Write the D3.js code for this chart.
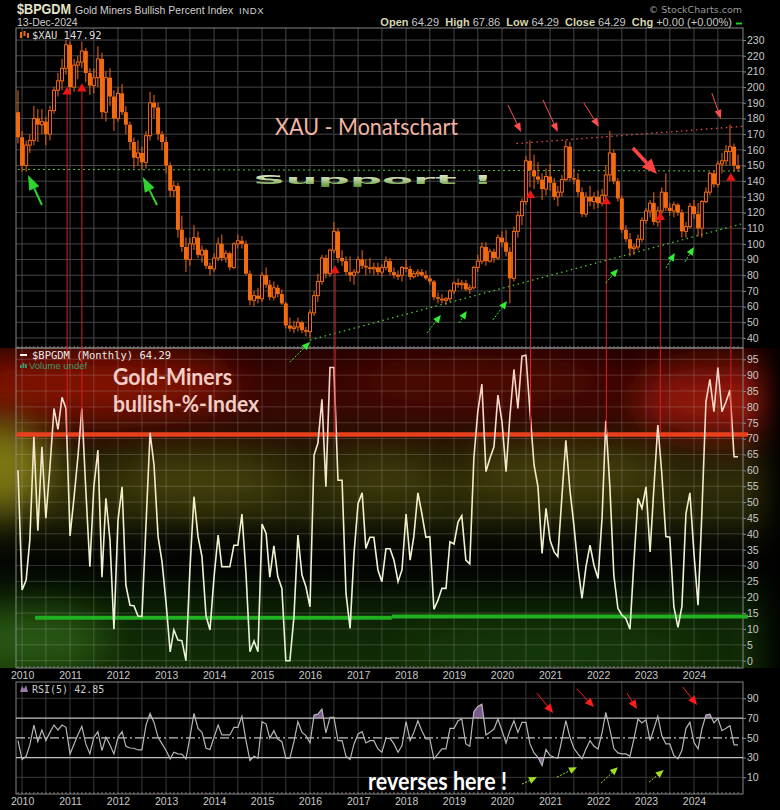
<!DOCTYPE html>
<html>
<head>
<meta charset="utf-8">
<script src="https://cdn.jsdelivr.net/npm/d3@7"></script>
<style>
  body { margin: 0; background: #000; }
  #chart { width: 780px; height: 810px; }
  text { font-family: "Liberation Sans", Arial, sans-serif; }
</style>
</head>
<body>
<div id="chart"></div>
<script>
// ---- data: monthly bars Dec-2009 .. Dec-2024 ----
const firstMonth = "2009-12-01";
const lastMonth = "2024-12-01";

// $XAU monthly candles (rows: 2009 Dec, then one row per year)
const xauOpen = [184,
  168,150,163,166,180,176,178,170,185,198,204,212,
  227,200,214,216,223,209,201,206,218,184,206,194,
  180,196,184,176,165,155,158,152,169,190,187,170,
  165,150,134,137,109,98,90,100,104,93,96,86,
  84,91,100,91,94,85,100,102,100,81,64,67,
  65,80,74,66,72,68,62,48,46,47,50,45,
  44,56,67,76,91,81,96,108,91,89,82,80,
  82,90,86,85,84,85,82,85,89,82,80,80,
  85,84,79,81,82,80,78,76,66,65,64,65,
  70,75,74,75,71,72,85,89,98,89,95,91,
  104,101,95,78,108,118,127,153,147,143,141,135,
  143,139,130,133,141,162,142,141,133,119,130,127,
  130,126,131,144,158,140,129,109,103,97,98,103,
  115,121,126,114,121,133,123,121,125,120,108,111,
  124,119,110,127,133,145,138,151,153,159,162,150];
const xauHigh = [198,
  172,166,170,188,186,186,181,188,200,209,218,230,
  229,218,220,229,225,212,212,226,222,210,212,198,
  200,202,188,178,168,166,162,172,197,195,190,172,
  168,152,140,139,118,104,104,112,108,99,97,88,
  94,104,106,96,95,101,106,105,102,83,70,72,
  82,85,77,76,74,71,63,53,51,53,51,47,
  58,70,81,93,93,97,114,110,96,92,92,84,
  92,96,90,91,88,88,87,92,91,85,83,86,
  90,86,83,84,84,83,80,77,69,68,66,71,
  76,78,77,77,74,86,93,101,101,97,97,106,
  108,109,98,111,121,129,156,166,157,152,145,148,
  151,142,137,144,166,165,148,145,136,133,137,133,
  134,135,150,172,160,142,131,112,107,100,106,117,
  123,128,133,124,136,145,126,127,126,122,114,126,
  128,126,128,136,146,147,153,158,163,176,164,157];
const xauLow = [164,
  146,146,158,163,165,170,163,166,183,194,198,208,
  196,197,205,212,203,195,196,200,180,178,188,172,
  178,182,170,160,148,150,147,148,166,180,166,160,
  145,130,130,104,95,82,86,96,91,88,84,80,
  82,89,89,88,83,84,97,97,80,61,60,62,
  63,72,64,64,66,61,46,44,43,44,43,41,
  40,54,63,74,78,79,94,88,86,80,76,74,
  81,84,80,81,80,80,79,83,80,78,77,76,
  82,77,78,79,79,77,74,64,62,62,61,63,
  68,72,71,70,68,71,82,87,86,88,88,90,
  98,92,62,76,104,112,125,136,135,138,128,131,
  134,128,124,130,140,140,138,130,117,117,124,122,
  123,124,129,140,138,127,107,101,92,93,96,101,
  113,117,112,111,119,121,118,117,118,104,104,110,
  116,105,104,126,131,136,136,145,150,150,146,146];
const xauClose = [168,
  150,163,166,180,176,178,170,185,198,204,212,227,
  200,214,216,223,209,201,206,218,184,206,194,180,
  196,184,176,165,155,158,152,169,190,187,170,165,
  150,134,137,109,98,90,100,104,93,96,86,84,
  91,100,91,94,85,100,102,100,81,64,67,65,
  80,74,66,72,68,62,48,46,47,50,45,44,
  56,67,76,91,81,96,108,91,89,82,80,82,
  90,86,85,84,85,82,85,89,82,80,80,85,
  84,79,81,82,80,78,76,66,65,64,65,70,
  75,74,75,71,72,85,89,98,89,95,91,104,
  101,95,78,108,118,127,153,147,143,141,135,143,
  139,130,133,141,162,142,141,133,119,130,127,130,
  126,131,144,158,140,129,109,103,97,98,103,115,
  121,126,114,121,133,123,121,125,120,108,111,124,
  119,110,127,133,145,138,151,153,159,162,150,147.92];

// $BPGDM monthly close
const bpgdm = [60,
  22.3,25.4,38,70.6,41,67.4,44.9,61,79.5,72.9,83,79.5,
  39.3,51.7,63.8,79.5,53.8,29.6,54.8,66.4,26.3,51.2,38,9.9,
  44.3,54.8,23.8,17.5,17.3,14.1,13.9,42.8,71.8,61.7,39.1,31.2,
  18.1,2.8,9.7,6.5,6.3,0,28.6,51.7,39.1,32.8,14.1,9.7,
  26.5,39.6,29.6,29.6,29.6,36.4,36.4,46.2,27.5,2.8,6.2,2.8,
  43.1,40.1,26.3,36.2,26.5,22.8,0,0,13.9,39.6,27,23.3,
  17,64.8,68.5,82.4,54.8,92.4,92.4,56.9,56.9,21.2,10.2,33.8,
  49.6,52.9,35.4,38.9,38.9,28.6,24.9,35.3,35.3,31.7,24.9,28.6,
  46.2,31.7,39.1,52.9,46.4,38.9,39.1,16.2,19.1,22.8,22.8,37.5,
  36.8,43.8,45.7,31.7,30.5,63.8,78.5,87.2,59.6,63.8,67.4,83.7,
  75.3,59.6,76.9,91.8,79.5,96,96.3,78.5,61.7,54.8,33.8,48,
  38,34.3,32.8,51.7,69.5,53.8,42.8,29.6,19.6,29.6,36.4,30.1,
  25.9,45.4,75.6,54.8,27,16.5,14.4,13.3,9.9,31.2,51.2,48,
  54.8,34.3,53.8,74.3,59,39.1,38.9,17,10.5,17,46.4,52.9,
  33.8,17.5,46.4,81.6,88.7,78.5,92.4,78.5,81.6,85.3,64.29,64.29];

// RSI(5) of $BPGDM
const rsi5 = [47.1,
  28,31.3,42.8,62.9,46.1,57.9,47.1,55.5,62.9,57.9,62.9,60.6,
  33.7,43.8,52.9,61.6,43.8,33.7,50.5,56.2,37.1,50.5,42.8,33.7,
  50.5,56.2,41.4,39.7,39.4,37.7,37.7,62.9,74.7,65.6,50.5,43.8,
  37.1,28.7,35.4,33.7,33.4,28.7,50.5,74.7,59.6,55.5,39.4,38.1,
  50.5,62.9,52.9,52.9,52.9,60.6,60.6,71.7,47.1,27,31.3,29.3,
  66.3,63.9,49.5,57.2,48.8,46.1,29.3,29.3,46.1,66.3,55.5,52.2,
  44.8,73,74,79.1,54.9,70.7,70.7,47.1,47.1,31.3,28,43.8,
  53.9,56.2,44.8,47.1,47.1,38.7,35.4,49.5,49.5,43.8,35.4,42.1,
  66.3,47.1,55.5,67.3,57.2,48.8,48.8,28.7,33.7,38.7,38.7,59.6,
  59.6,67.3,69,43.8,41.4,76.4,81.8,84.1,52.9,55.5,58.9,69,
  57.2,44.8,57.2,67.3,55.5,65.6,65.6,43.8,34.7,30.3,21.9,38.1,
  32.1,30.3,29.3,48.2,67.3,50.5,39.4,33.7,28.7,38.7,47.1,41.4,
  38.7,55.5,75.7,58.9,39.4,34.7,33.7,33.7,31.3,48.8,69,65,
  68.3,47.1,58.9,71.7,52.2,43.8,43.8,32.1,28.7,37.1,59.6,65.6,
  45.5,38.7,58.9,73,74,65,69.7,57.2,59.6,62.3,42.85,42.85];

// tick values
const xauTicks = d3.range(40, 231, 10);
const bpiTicks = d3.range(0, 96, 5);
const rsiTicks = [10, 30, 50, 70, 90];

// sell signals (XAU level of the marker)
const signalDates = ["2010-12-10","2011-04-01","2016-07-10","2020-08-05","2022-03-05","2023-04-20","2024-10-08"];
const signalLevels = [197, 199, 83, 131, 127, 117, 142];

// reference levels [fromDate, toDate, level]
const bpiUpperLine = ["2009-11-20", "2025-02-15", 71.3];
const bpiLowerLines = [["2010-04-10", "2017-09-15", 13.5], ["2017-09-15", "2025-02-15", 13.9]];
const supportLine = [["2009-12-01", 147.5], ["2025-01-08", 146.5]];
const trendLine = [["2016-01-01", 38.7], ["2025-01-08", 113]];
const resistLine = [["2020-04-20", 164], ["2025-01-08", 175]];

// hand drawn arrows [fromDate, fromValue, toDate, toValue]
const xauRedArrows = [
  ["2020-02-15",188.6,"2020-05-25",171.4],
  ["2020-11-08",191.8,"2021-03-01",171.4],
  ["2021-09-15",189.9,"2022-01-08",174.6],
  ["2022-09-23",161.2,"2023-03-25",144.6],
  ["2024-05-16",196.2,"2024-07-24",179.7]];
const xauBigGreenArrows = [
  ["2010-06-01",124.8,"2010-02-15",144.0],
  ["2012-10-24",124.8,"2012-07-08",142.7]];
const xauGreenArrows = [
  ["2015-08-01",24.7,"2016-01-01",37.4],
  ["2018-06-09",43.2,"2018-09-23",54.7],
  ["2019-02-08",49.6,"2019-04-08",57.2],
  ["2019-10-24",51.5,"2020-02-08",63.6],
  ["2022-03-01",75.1,"2022-06-01",84.0],
  ["2023-06-01",84.6,"2023-08-08",94.2],
  ["2023-10-24",88.5,"2024-01-01",98.0]];
const rsiRedArrows = [
  ["2020-09-23",95.3,"2021-01-24",75.1],
  ["2021-07-24",99.4,"2021-12-01",81.1],
  ["2022-08-08",95.3,"2022-10-24",79.1],
  ["2023-10-08",101.4,"2024-01-24",83.1]];
const rsiGreenArrows = [
  ["2020-06-01",3.1,"2020-09-23",10.2],
  ["2021-02-22",10.2,"2021-07-24",20.3],
  ["2022-01-24",4.1,"2022-06-01",20.3],
  ["2023-01-24",5.1,"2023-05-16",17.3]];

const parseDate = d3.timeParse("%Y-%m-%d");

class MinersChart {
  constructor(parentElement) {
    this.parentElement = parentElement;
    this.initVis();
  }

  initVis() {
    let vis = this;
    vis.left = 16;
    vis.right = 743;

    vis.svg = d3.select("#" + vis.parentElement).append("svg")
      .attr("width", 780).attr("height", 810)
      .style("background", "#000");
    vis.defs = vis.svg.append("defs");

    vis.x = d3.scaleTime()
      .domain([parseDate(firstMonth), parseDate(lastMonth)])
      .range([18, 738]);
    vis.yTop = d3.scaleLinear().domain([33.6, 237.7]).range([348, 28]);
    vis.yMid = d3.scaleLinear().domain([-2.3, 98.56]).range([668, 348]);
    vis.yRsi = d3.scaleLinear().domain([-6.9, 106.5]).range([794, 682]);

    vis.wrangleData();
  }

  wrangleData() {
    let vis = this;
    let months = d3.timeMonth.range(parseDate(firstMonth), d3.timeMonth.offset(parseDate(lastMonth), 1));
    vis.bars = months.map((d, i) => ({
      date: d, open: xauOpen[i], high: xauHigh[i], low: xauLow[i], close: xauClose[i],
      bpi: bpgdm[i], rsi: rsi5[i]
    }));
    vis.halfYears = vis.x.ticks(d3.timeMonth.every(6));
    vis.months = months;
    vis.updateVis();
  }

  updateVis() {
    let vis = this;
    vis.drawBackground();
    vis.drawGrids();
    vis.drawXau();
    vis.drawBreadth();
    vis.drawRsi();
    vis.drawSignals();
    vis.drawAxes();
    vis.drawNotes();
    vis.drawHeader();
  }

  drawBackground() {
    let vis = this;
    let grad = vis.defs.append("linearGradient").attr("id", "midBg")
      .attr("x1", 0).attr("y1", 0).attr("x2", 0).attr("y2", 1);
    [[0, "#240200"], [0.08, "#360502"], [0.18, "#380803"], [0.27, "#2a0e03"],
     [0.34, "#262006"], [0.43, "#2e2c08"], [0.52, "#242408"], [0.6, "#0e1004"],
     [0.67, "#030502"], [0.75, "#071404"], [0.86, "#0e2605"], [1, "#122c06"]]
      .forEach(s => grad.append("stop").attr("offset", s[0]).attr("stop-color", s[1]));

    let blur = vis.defs.append("filter").attr("id", "blur")
      .attr("x", "-50%").attr("y", "-50%").attr("width", "200%").attr("height", "200%");
    blur.append("feGaussianBlur").attr("stdDeviation", 18);

    let clip = vis.defs.append("clipPath").attr("id", "midClip");
    clip.append("rect").attr("x", 0).attr("y", 348).attr("width", 780).attr("height", 320);

    let bg = vis.svg.append("g").attr("clip-path", "url(#midClip)");
    bg.append("rect").attr("x", 0).attr("y", 348).attr("width", 780).attr("height", 320)
      .attr("fill", "url(#midBg)");

    let blobs = [
      [90, 385, 150, 32, "#9c1606", 0.75],
      [480, 380, 130, 24, "#6a0e04", 0.45],
      [720, 400, 85, 34, "#b01a08", 0.75],
      [0, 465, 50, 45, "#8c8412", 0.85],
      [200, 478, 80, 24, "#5a5410", 0.55],
      [385, 474, 50, 20, "#5a5410", 0.45],
      [565, 470, 100, 24, "#5e5810", 0.5],
      [420, 560, 360, 20, "#000000", 0.6],
      [30, 640, 80, 30, "#2e6212", 0.85],
      [550, 650, 150, 24, "#1c460a", 0.5]
    ];
    bg.selectAll(".blob").data(blobs).enter().append("ellipse")
      .attr("cx", d => d[0]).attr("cy", d => d[1])
      .attr("rx", d => d[2]).attr("ry", d => d[3])
      .attr("fill", d => d[4]).attr("opacity", d => d[5])
      .attr("filter", "url(#blur)");

    let fade = vis.defs.append("linearGradient").attr("id", "rightFade")
      .attr("x1", 0).attr("y1", 0).attr("x2", 1).attr("y2", 0);
    fade.append("stop").attr("offset", 0).attr("stop-color", "#000").attr("stop-opacity", 0);
    fade.append("stop").attr("offset", 1).attr("stop-color", "#000").attr("stop-opacity", 0.9);
    bg.append("rect").attr("x", 745).attr("y", 348).attr("width", 35).attr("height", 320)
      .attr("fill", "url(#rightFade)");
  }

  drawGrids() {
    let vis = this;
    let g = vis.svg.append("g").attr("class", "grids");
    let w = vis.right - vis.left;

    let panelGrid = (scale, ticks, y0, y1, color) => {
      g.append("g").selectAll("line").data(ticks).enter().append("line")
        .attr("x1", vis.left).attr("x2", vis.right)
        .attr("y1", d => scale(d)).attr("y2", d => scale(d))
        .attr("stroke", color).attr("stroke-width", 1);
      g.append("g").selectAll("line").data(vis.halfYears).enter().append("line")
        .attr("x1", d => vis.x(d)).attr("x2", d => vis.x(d))
        .attr("y1", y0).attr("y2", y1)
        .attr("stroke", color).attr("stroke-width", 1);
    };
    panelGrid(vis.yTop, xauTicks, 28, 348, "#464646");
    panelGrid(vis.yMid, bpiTicks, 348, 668, "rgba(220,220,220,0.2)");
    panelGrid(vis.yRsi, [10, 90], 682, 794, "#3a3a3a");

    // month ticks along frames
    [348, 668, 794].forEach(yy => {
      g.append("g").selectAll("line").data(vis.months).enter().append("line")
        .attr("x1", d => vis.x(d)).attr("x2", d => vis.x(d))
        .attr("y1", yy - 2).attr("y2", yy)
        .attr("stroke", "#777");
    });

    [[28, 320], [348, 320], [682, 112]].forEach(p => {
      vis.svg.append("rect").attr("x", vis.left).attr("y", p[0])
        .attr("width", w).attr("height", p[1])
        .attr("fill", "none").attr("stroke", "#858585");
    });
  }

  drawXau() {
    let vis = this;
    let orange = "#f26b10";
    let g = vis.svg.append("g").attr("class", "candles");
    let ln = d3.line().x(d => vis.x(parseDate(d[0]))).y(d => vis.yTop(d[1]));

    g.append("path").attr("d", ln(supportLine))
      .attr("stroke", "#55c43c").attr("stroke-dasharray", "2,3").attr("fill", "none");
    g.append("path").attr("d", ln(trendLine))
      .attr("stroke", "#4fc83a").attr("stroke-dasharray", "1.5,3.5").attr("stroke-width", 1.3).attr("fill", "none");
    g.append("path").attr("d", ln(resistLine))
      .attr("stroke", "#e8504a").attr("stroke-dasharray", "1.5,3.5").attr("stroke-width", 1.3).attr("fill", "none");

    let bars = g.selectAll(".bar").data(vis.bars).enter().append("g");
    bars.append("line")
      .attr("x1", d => vis.x(d.date)).attr("x2", d => vis.x(d.date))
      .attr("y1", d => vis.yTop(d.high)).attr("y2", d => vis.yTop(d.low))
      .attr("stroke", orange).attr("stroke-width", 1);
    bars.append("rect")
      .attr("x", d => vis.x(d.date) - (d.close >= d.open ? 1.5 : 2))
      .attr("width", d => d.close >= d.open ? 3 : 4)
      .attr("y", d => vis.yTop(Math.max(d.open, d.close)))
      .attr("height", d => Math.max(1, vis.yTop(Math.min(d.open, d.close)) - vis.yTop(Math.max(d.open, d.close))))
      .attr("fill", d => d.close >= d.open ? "#000" : orange)
      .attr("stroke", d => d.close >= d.open ? orange : "none")
      .attr("stroke-width", 1);
  }

  drawBreadth() {
    let vis = this;
    let g = vis.svg.append("g").attr("class", "breadth");

    g.append("line")
      .attr("x1", vis.x(parseDate(bpiUpperLine[0]))).attr("x2", vis.x(parseDate(bpiUpperLine[1])))
      .attr("y1", vis.yMid(bpiUpperLine[2])).attr("y2", vis.yMid(bpiUpperLine[2]))
      .attr("stroke", "#e8401c").attr("stroke-width", 4.5);
    g.selectAll(".lower").data(bpiLowerLines).enter().append("line")
      .attr("x1", d => vis.x(parseDate(d[0]))).attr("x2", d => vis.x(parseDate(d[1])))
      .attr("y1", d => vis.yMid(d[2])).attr("y2", d => vis.yMid(d[2]))
      .attr("stroke", "#20b020").attr("stroke-width", 4);

    let lineGrad = vis.defs.append("linearGradient").attr("id", "bpiStroke")
      .attr("gradientUnits", "userSpaceOnUse")
      .attr("x1", 0).attr("x2", 0).attr("y1", 348).attr("y2", 668);
    [[0, "#f6cbc4"], [0.3, "#f6e2cc"], [0.5, "#f4f0c4"], [0.75, "#f0f2d8"], [1, "#e2f2d2"]]
      .forEach(s => lineGrad.append("stop").attr("offset", s[0]).attr("stop-color", s[1]));

    g.append("path").datum(vis.bars)
      .attr("d", d3.line().x(d => vis.x(d.date)).y(d => vis.yMid(d.bpi)))
      .attr("fill", "none").attr("stroke", "url(#bpiStroke)").attr("stroke-width", 1.6);
  }

  drawRsi() {
    let vis = this;
    let g = vis.svg.append("g").attr("class", "rsi");

    let hi = vis.defs.append("clipPath").attr("id", "rsiHi");
    hi.append("rect").attr("x", vis.left).attr("y", 682).attr("width", vis.right - vis.left)
      .attr("height", vis.yRsi(70) - 682);
    let lo = vis.defs.append("clipPath").attr("id", "rsiLo");
    lo.append("rect").attr("x", vis.left).attr("y", vis.yRsi(30)).attr("width", vis.right - vis.left)
      .attr("height", 794 - vis.yRsi(30));

    g.append("path").datum(vis.bars).attr("clip-path", "url(#rsiHi)")
      .attr("d", d3.area().x(d => vis.x(d.date)).y0(vis.yRsi(70)).y1(d => vis.yRsi(d.rsi)))
      .attr("fill", "#7b5a8c");
    g.append("path").datum(vis.bars).attr("clip-path", "url(#rsiLo)")
      .attr("d", d3.area().x(d => vis.x(d.date)).y0(vis.yRsi(30)).y1(d => vis.yRsi(d.rsi)))
      .attr("fill", "#7b5a8c");

    [[70, null], [30, null], [50, "9,3,2,3"]].forEach(l => {
      g.append("line")
        .attr("x1", vis.left).attr("x2", vis.right)
        .attr("y1", vis.yRsi(l[0])).attr("y2", vis.yRsi(l[0]))
        .attr("stroke", "#c4c4c4").attr("stroke-width", 1.3)
        .attr("stroke-dasharray", l[1]);
    });

    g.append("path").datum(vis.bars)
      .attr("d", d3.line().x(d => vis.x(d.date)).y(d => vis.yRsi(d.rsi)))
      .attr("fill", "none").attr("stroke", "#b6b6b6").attr("stroke-width", 1.2);
  }

  drawSignals() {
    let vis = this;
    let g = vis.svg.append("g").attr("class", "signals");
    let sig = signalDates.map((d, i) => ({date: parseDate(d), level: signalLevels[i]}));

    g.selectAll("line").data(sig).enter().append("line")
      .attr("x1", d => vis.x(d.date)).attr("x2", d => vis.x(d.date))
      .attr("y1", d => vis.yTop(d.level)).attr("y2", vis.yMid(bpiUpperLine[2]))
      .attr("stroke", "#d82020").attr("stroke-width", 1);
    g.selectAll("path").data(sig).enter().append("path")
      .attr("d", d3.symbol(d3.symbolTriangle).size(38))
      .attr("transform", d => `translate(${vis.x(d.date)},${vis.yTop(d.level)})`)
      .attr("fill", "#ee1515");
  }

  drawAxes() {
    let vis = this;
    let style = (g) => {
      g.select(".domain").remove();
      g.selectAll("text").attr("fill", "#c8c8c8").style("font-size", "10.5px")
        .style("font-family", "'Liberation Sans', Arial, sans-serif");
      g.selectAll(".tick line").attr("stroke", "#8a8a8a");
    };

    [[vis.yTop, xauTicks], [vis.yMid, bpiTicks], [vis.yRsi, rsiTicks]].forEach(a => {
      vis.svg.append("g").attr("transform", `translate(${vis.right},0)`)
        .call(d3.axisRight(a[0]).tickValues(a[1]).tickSize(3).tickPadding(1))
        .call(style);
    });

    [668, 794].forEach(yy => {
      vis.svg.append("g").attr("transform", `translate(0,${yy})`)
        .call(d3.axisBottom(vis.x).ticks(d3.timeYear.every(1))
          .tickFormat(d3.timeFormat("%Y")).tickSize(0).tickPadding(3.5))
        .call(style);
    });
  }

  arrow(g, p, color, lw, headLen, headW, dash) {
    let x1 = p[0], y1 = p[1], x2 = p[2], y2 = p[3];
    let a = Math.atan2(y2 - y1, x2 - x1);
    let bx = x2 - headLen * Math.cos(a), by = y2 - headLen * Math.sin(a);
    g.append("line").attr("x1", x1).attr("y1", y1).attr("x2", bx).attr("y2", by)
      .attr("stroke", color).attr("stroke-width", lw).attr("stroke-dasharray", dash || null);
    let hw = headW / 2;
    g.append("polygon")
      .attr("points", [[x2, y2],
        [bx + hw * Math.sin(a), by - hw * Math.cos(a)],
        [bx - hw * Math.sin(a), by + hw * Math.cos(a)]].map(q => q.join(",")).join(" "))
      .attr("fill", color);
  }

  drawNotes() {
    let vis = this;
    let g = vis.svg.append("g").attr("class", "notes");
    let px = (arr, ys) => arr.map(a => [vis.x(parseDate(a[0])), ys(a[1]), vis.x(parseDate(a[2])), ys(a[3])]);

    px(xauRedArrows, vis.yTop).forEach((p, i) => {
      if (i === 3) vis.arrow(g, p, "#ff4242", 3.5, 15, 13);
      else vis.arrow(g, p, "#ff4d4d", 1, 9, 7);
    });
    px(xauBigGreenArrows, vis.yTop).forEach(p => vis.arrow(g, p, "#2fd42f", 2, 15, 11));
    px(xauGreenArrows, vis.yTop).forEach(p => vis.arrow(g, p, "#33ee33", 1, 8, 7, "2,1.5"));
    px(rsiRedArrows, vis.yRsi).forEach(p => vis.arrow(g, p, "#ff1c1c", 1, 9, 8));
    px(rsiGreenArrows, vis.yRsi).forEach(p => vis.arrow(g, p, "#a0e020", 1, 8, 7, "2,1.5"));

    let sup = vis.defs.append("linearGradient").attr("id", "supFill")
      .attr("x1", 0).attr("y1", 0).attr("x2", 0).attr("y2", 1);
    sup.append("stop").attr("offset", 0).attr("stop-color", "#eef4e2");
    sup.append("stop").attr("offset", 0.5).attr("stop-color", "#b8d09a");
    sup.append("stop").attr("offset", 1).attr("stop-color", "#5e9438");

    let big = (txt, x, y, size, len, fill, weight, family) => g.append("text")
      .attr("x", x).attr("y", y).text(txt)
      .attr("textLength", len).attr("lengthAdjust", "spacingAndGlyphs")
      .style("font-family", family || "Lato, 'Open Sans', sans-serif")
      .style("font-size", size + "px").style("font-weight", weight || "normal")
      .attr("fill", fill);

    big("XAU - Monatschart", 275, 135, 24, 183, "#f2b4a3");
    big("Support !", 253, 184, 13, 240, "url(#supFill)", "bold", "'DejaVu Sans', sans-serif");
    big("Gold-Miners", 113, 385, 23, 119, "#f3cdc6", "bold");
    big("bullish-%-Index", 113, 412, 23, 146, "#f3cdc6", "bold");
    big("reverses here !", 368, 790, 25, 139, "#ffffff", "bold");
  }

  drawHeader() {
    let vis = this;
    let g = vis.svg.append("g").attr("class", "header");
    let mono = "'DejaVu Sans Mono', monospace";

    g.append("text").attr("x", 17).attr("y", 14).text("$BPGDM")
      .attr("textLength", 54).attr("lengthAdjust", "spacingAndGlyphs")
      .attr("fill", "#e4e4cc").style("font-size", "14px").style("font-weight", "bold");
    g.append("text").attr("x", 75).attr("y", 13.5).text("Gold Miners Bullish Percent Index")
      .attr("fill", "#cfcfcf").style("font-size", "10.5px");
    g.append("text").attr("x", 239).attr("y", 13.5).text("INDX")
      .attr("fill", "#cfcfcf").style("font-size", "9.5px").style("letter-spacing", "0.6px");
    g.append("text").attr("x", 17).attr("y", 26).text("13-Dec-2024")
      .attr("fill", "#cfcfcf").style("font-size", "10.5px");
    g.append("text").attr("x", 742).attr("y", 13).attr("text-anchor", "end")
      .text("\u00A9 StockCharts.com")
      .attr("fill", "#9a9a9a").style("font-family", "'DejaVu Sans', sans-serif")
      .style("font-size", "9.5px");

    let ohlc = g.append("text").attr("x", 732).attr("y", 26).attr("text-anchor", "end")
      .style("font-size", "11px").style("white-space", "pre");
    [["Open", " 64.29  "], ["High", " 67.86  "], ["Low", " 64.29  "], ["Close", " 64.29  "], ["Chg", " +0.00 (+0.00%)"]]
      .forEach(p => {
        ohlc.append("tspan").text(p[0]).attr("fill", "#d6d6ae").style("font-weight", "bold");
        ohlc.append("tspan").text(p[1]).attr("fill", "#c8c8c8");
      });
    g.append("rect").attr("x", 736).attr("y", 22.5).attr("width", 6).attr("height", 2).attr("fill", "#22cc22");

    // panel legends
    [[20, 32, 6], [23.5, 31, 5], [27, 33, 5]].forEach(b => g.append("rect")
      .attr("x", b[0]).attr("y", b[1]).attr("width", 2).attr("height", b[2]).attr("fill", "#f26b10"));
    g.append("text").attr("x", 32).attr("y", 39).text("$XAU 147.92")
      .attr("fill", "#dcdcdc").style("font-size", "10.5px").style("font-family", mono);

    g.append("rect").attr("x", 20).attr("y", 354).attr("width", 7).attr("height", 2).attr("fill", "#f4f4f4");
    g.append("text").attr("x", 32).attr("y", 359).text("$BPGDM (Monthly) 64.29")
      .attr("fill", "#e8e8e8").style("font-size", "10.5px").style("font-family", mono);
    [[20, 3], [22.5, 5], [25, 4]].forEach(b => g.append("rect").attr("x", b[0]).attr("y", 368 - b[1])
      .attr("width", 1.8).attr("height", b[1]).attr("fill", "#3c9a6a"));
    g.append("text").attr("x", 29).attr("y", 368.5).text("Volume undef")
      .attr("fill", "#3c9a6a").style("font-size", "9.5px");

    g.append("polygon").attr("points", "20,692 22,686 24,689 26,685 28,692").attr("fill", "#9a7aa8");
    g.append("text").attr("x", 32).attr("y", 692.5).text("RSI(5) 42.85")
      .attr("fill", "#cccccc").style("font-size", "10px").style("font-family", mono);
  }
}

new MinersChart("chart");
</script>
</body>
</html>
